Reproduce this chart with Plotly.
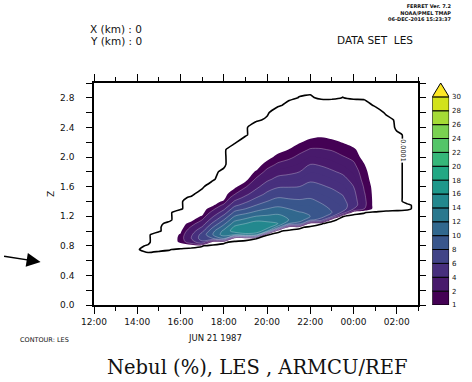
import numpy as np
import plotly.graph_objects as go

# ---------------- data ----------------
# time axis in hours since 00:00 of Jun 21 (24 = 00:00 next day)
times_h = [13.5, 14.0, 14.5, 15.0, 15.5, 16.0, 16.5, 17.0, 17.5, 18.0, 18.5, 19.0, 19.5, 20.0,
           20.5, 21.0, 21.5, 22.0, 22.5, 23.0, 23.5, 24.0, 24.5, 25.0, 25.5, 26.0, 26.5, 27.0]
heights_km = [0.60, 0.65, 0.70, 0.75, 0.80, 0.85, 0.90, 0.95, 1.00, 1.05,
              1.10, 1.15, 1.20, 1.25, 1.30, 1.35, 1.40, 1.45, 1.50,
              1.60, 1.70, 1.80, 1.90, 2.00, 2.10, 2.20, 2.30, 2.40, 2.50, 2.60, 2.70, 2.80, 2.90, 3.00]

# cloud fraction (%) profiles, one list per time (bottom -> top)
nebul_profiles = [
    [0,0,0,0,0,0,0,0,0,0, 0,0,0,0,0,0,0,0,0, 0,0,0,0,0,0,0,0,0,0,0,0,0,0,0],  # 13.5
    [0,0,0,0,0,0,0,0,0,0, 0,0,0,0,0,0,0,0,0, 0,0,0,0,0,0,0,0,0,0,0,0,0,0,0],  # 14.0
    [0,0,0,0.5,0.15,0,0,0,0,0, 0,0,0,0,0,0,0,0,0, 0,0,0,0,0,0,0,0,0,0,0,0,0,0,0],  # 14.5
    [0,0,0,0.2,0.5,0.5,0.5,0.5,0,0, 0,0,0,0,0,0,0,0,0, 0,0,0,0,0,0,0,0,0,0,0,0,0,0,0],  # 15.0
    [0,0,0,0.12,0.5,0.5,0.5,0.5,0.5,0.5, 0.25,0,0,0,0,0,0,0,0, 0,0,0,0,0,0,0,0,0,0,0,0,0,0,0],  # 15.5
    [0,0,0,0,0.5,1.15,1.2,1.1,0.8,0.5, 0.5,0.5,0.5,0.5,0,0,0,0,0, 0,0,0,0,0,0,0,0,0,0,0,0,0,0,0],  # 16.0
    [0,0,0,0,0.25,3,4,3.7,3,2.2, 1.4,0.7,0.5,0.5,0.5,0.5,0.5,0.17,0, 0,0,0,0,0,0,0,0,0,0,0,0,0,0,0],  # 16.5
    [0,0,0,0,0.12,5.5,7,6.8,5.5,4.2, 3,2,1.1,0.6,0.5,0.5,0.5,0.5,0.33, 0,0,0,0,0,0,0,0,0,0,0,0,0,0,0],  # 17.0
    [0,0,0,0,0,0.5,8,10,9.5,8, 6.5,5,3.8,2.6,1.6,0.8,0.5,0.5,0.5, 0.5,0,0,0,0,0,0,0,0,0,0,0,0,0,0],  # 17.5
    [0,0,0,0,0,0.17,10,13,12.5,11, 9.5,8,6.5,5,3.6,2.3,1.2,0.6,0.5, 0.5,0.5,0.2,0,0,0,0,0,0,0,0,0,0,0,0],  # 18.0
    [0,0,0,0,0,0,0.5,12,15,14.5, 13,11.5,10,8.5,7,5.5,4.2,3,1.9, 0.7,0.5,0.5,0.5,0.5,0.5,0,0,0,0,0,0,0,0,0],  # 18.5
    [0,0,0,0,0,0,0.25,13,16,15.5, 14,12.5,11,9.5,8,6.8,5.6,4.5,3.5, 1.8,0.6,0.5,0.5,0.5,0.5,0.5,0,0,0,0,0,0,0,0],  # 19.0
    [0,0,0,0,0,0,0.11,12,16,16, 15,13.5,12,10.5,9.2,8,7,6,5, 3.5,2.2,1.1,0.5,0.5,0.5,0.5,0.5,0.5,0,0,0,0,0,0],  # 19.5
    [0,0,0,0,0,0,0,0.12,12,15, 14.5,13.5,12.3,11,10,9,8,7.2,6.4, 5,3.6,2.4,1.4,0.6,0.5,0.5,0.5,0.5,0.2,0,0,0,0,0],  # 20.0
    [0,0,0,0,0,0,0,0,0.17,11, 14,13.5,12.5,11.5,10.5,9.6,8.8,8,7.2, 5.8,4.5,3.3,2.2,1.3,0.6,0.5,0.5,0.5,0.5,0.5,0,0,0,0],  # 20.5
    [0,0,0,0,0,0,0,0,0,0.5, 10,12,11.6,10.8,10,9.2,8.5,7.8,7.1, 5.9,4.7,3.6,2.6,1.7,1.02,0.5,0.5,0.5,0.5,0.5,0.25,0,0,0],  # 21.0
    [0,0,0,0,0,0,0,0,0,0.17, 9,11,10.7,10.1,9.5,8.9,8.3,7.7,7.1, 6,5,4,3.1,2.3,1.6,0.9,0.5,0.5,0.5,0.5,0.5,0.12,0,0],  # 21.5
    [0,0,0,0,0,0,0,0,0,0, 0.5,8.5,10,9.8,9.4,8.9,8.4,7.9,7.4, 6.5,5.7,4.9,4,3,2.1,1.35,0.6,0.5,0.5,0.5,0.5,0.17,0,0],  # 22.0
    [0,0,0,0,0,0,0,0,0,0, 0.12,7,9,8.9,8.6,8.2,7.8,7.4,7, 6.2,5.5,4.7,3.8,2.9,2.1,1.4,0.8,0.5,0.5,0.5,0.5,0,0,0],  # 22.5
    [0,0,0,0,0,0,0,0,0,0, 0,0.17,6.5,8,7.8,7.5,7.2,6.9,6.5, 5.8,5,4.2,3.4,2.6,1.9,1.25,0.6,0.5,0.5,0.5,0.5,0,0,0],  # 23.0
    [0,0,0,0,0,0,0,0,0,0, 0,0,0.12,5.5,7,6.8,6.5,6.2,5.9, 5.2,4.5,3.7,2.9,2.1,1.5,0.95,0.5,0.5,0.5,0.5,0.5,0.11,0,0],  # 23.5
    [0,0,0,0,0,0,0,0,0,0, 0,0,0,0.25,4,5,4.9,4.7,4.5, 4,3.4,2.8,2.2,1.7,1.15,0.6,0.5,0.5,0.5,0.5,0.5,0,0,0],  # 24.0
    [0,0,0,0,0,0,0,0,0,0, 0,0,0,0.12,2,2.3,2.3,2.2,2.1, 1.8,1.4,1.2,1.02,0.5,0.5,0.5,0.5,0.5,0.5,0.5,0.4,0,0,0],  # 24.5
    [0,0,0,0,0,0,0,0,0,0, 0,0,0,0,0.6,0.5,0.5,0.5,0.5, 0.5,0.5,0.5,0.5,0.5,0.5,0.5,0.5,0.5,0.5,0.5,0,0,0,0],  # 25.0
    [0,0,0,0,0,0,0,0,0,0, 0,0,0,0,0.25,0.5,0.5,0.5,0.5, 0.5,0.5,0.5,0.5,0.5,0.5,0.5,0.5,0.5,0.33,0,0,0,0,0],  # 25.5
    [0,0,0,0,0,0,0,0,0,0, 0,0,0,0,0.2,0.2,0.2,0.2,0.2, 0.2,0.2,0.2,0.2,0.2,0.2,0.2,0.2,0,0,0,0,0,0,0],  # 26.0
    [0,0,0,0,0,0,0,0,0,0, 0,0,0,0,0.15,0.15,0,0,0, 0,0,0,0,0,0,0,0,0,0,0,0,0,0,0],  # 26.5
    [0,0,0,0,0,0,0,0,0,0, 0,0,0,0,0,0,0,0,0, 0,0,0,0,0,0,0,0,0,0,0,0,0,0,0],  # 27.0
]

levels = [1, 2, 4, 6, 8, 10, 12, 14, 16, 18, 20, 22, 24, 26, 28, 30]
band_colors = ["#440154", "#481A6C", "#472F7D", "#414487", "#39568C", "#31688E", "#2A788E", "#23888E",
               "#1F988B", "#22A884", "#35B779", "#54C568", "#7AD151", "#A5DB36", "#D2E21B", "#FDE725"]
x_tick_vals = [12, 14, 16, 18, 20, 22, 24, 26]
x_tick_text = ["12:00", "14:00", "16:00", "18:00", "20:00", "22:00", "00:00", "02:00"]
outline_level = 0.1
outline_label = "0.0001"

# ---------------- figure ----------------
z = np.array(nebul_profiles, dtype=float).T

# stepwise colorscale for unit contour bins between 1 and 30
nbin = levels[-1] - levels[0]
step_colors = []
for k in range(nbin + 1):
    v = levels[0] - 1 + k + 0.5
    if v < levels[0]:
        step_colors.append("#ffffff")
    else:
        idx = max(j for j in range(len(levels)) if levels[j] <= v)
        step_colors.append(band_colors[idx])
colorscale = []
for k, c in enumerate(step_colors):
    lo = max(0.0, (k - 0.5) / nbin)
    hi = min(1.0, (k + 0.5) / nbin)
    colorscale += [[lo, c], [hi, c]]

FONT = "DejaVu Sans"
INK = "#111111"

fig = go.Figure()
fig.add_trace(go.Contour(
    x=times_h, y=heights_km, z=z, colorscale=colorscale, autocontour=False,
    contours=dict(start=levels[0], end=levels[-1], size=1, coloring="fill", showlines=False),
    line=dict(width=0, smoothing=1), showscale=False, hoverinfo="skip"))
fig.add_trace(go.Contour(
    x=times_h, y=heights_km, z=z, autocontour=False,
    contours=dict(start=levels[1], end=levels[-1], size=2, coloring="none"),
    line=dict(color="rgba(255,255,255,0.4)", width=0.7, smoothing=1),
    showscale=False, hoverinfo="skip"))
fig.add_trace(go.Contour(
    x=times_h, y=heights_km, z=z, autocontour=False,
    contours=dict(start=outline_level, end=outline_level, size=1, coloring="none"),
    line=dict(color="black", width=1.6, smoothing=0.5),
    showscale=False, hoverinfo="skip"))

# colour key built from the levels
n = len(levels) - 1
fig.add_trace(go.Bar(
    x=[0] * n, y=[1] * n, base=list(range(n)), width=1,
    marker=dict(color=band_colors[:n], line=dict(color="black", width=1)),
    xaxis="x2", yaxis="y2", hoverinfo="skip", showlegend=False))
fig.add_trace(go.Scatter(
    x=[-0.5, 0.5, 0, -0.5], y=[n, n, n + 1, n], mode="lines", fill="toself",
    fillcolor=band_colors[n], line=dict(color="black", width=1),
    xaxis="x2", yaxis="y2", hoverinfo="skip", showlegend=False))

L, R, T, B = 94, 10, 83, 77
W, H = 472, 382
PW, PH = W - L - R, H - T - B
def px(x):
    return (x - L) / PW
def py(y):
    return (H - B - y) / PH

axis_common = dict(showline=True, linecolor="black", linewidth=1.5, mirror="ticks",
                   ticks="outside", tickcolor="black", tickwidth=1.2,
                   showgrid=False, zeroline=False,
                   tickfont=dict(family=FONT, size=9, color=INK))
fig.update_layout(
    width=W, height=H, margin=dict(l=L, r=R, t=T, b=B),
    paper_bgcolor="white", plot_bgcolor="white", showlegend=False, barmode="overlay",
    xaxis=dict(domain=[0, px(422)], range=[12, 27], tickmode="array",
               tickvals=x_tick_vals, ticktext=x_tick_text, ticklen=7,
               minor=dict(dtick=1, tick0=12, ticklen=4, ticks="outside", tickcolor="black", tickwidth=1.2),
               **axis_common),
    yaxis=dict(range=[0, 3.0], tick0=0, dtick=0.4, tickformat=".1f", ticklen=6,
               ticklabelstandoff=10,
               minor=dict(dtick=0.2, tick0=0, ticklen=6, ticks="outside", tickcolor="black", tickwidth=1.2),
               title=dict(text="Z", font=dict(family=FONT, size=9, color=INK), standoff=4),
               **axis_common),
    xaxis2=dict(domain=[px(436), px(453)], range=[-0.5, 0.5], visible=False, anchor="y2"),
    yaxis2=dict(domain=[0, 1], range=[0, n + 1], anchor="x2", side="right",
                tickmode="array", tickvals=list(range(n + 1)), ticktext=[str(v) for v in levels],
                ticks="", showline=False, showgrid=False, zeroline=False, ticklabelstandoff=2,
                tickfont=dict(family=FONT, size=7, color=INK)),
)

def note(text, x, y, size, xanchor="center", yanchor="middle", family=FONT, **kw):
    fig.add_annotation(text=text, x=x, y=y, xref="paper", yref="paper", showarrow=False,
                       xanchor=xanchor, yanchor=yanchor,
                       font=dict(family=family, size=size, color=INK), **kw)

note("X (km) : 0", px(88), py(29), 10.5, xanchor="left")
note("Y (km) : 0", px(88), py(41), 10.5, xanchor="left")
note("DATA SET  LES", px(338), py(40), 10.5, xanchor="left")
note("<b>FERRET Ver. 7.2</b><br><b>NOAA/PMEL TMAP</b><br><b>06-DEC-2016 15:23:37</b>",
     px(458), py(1), 5, xanchor="right", yanchor="top", align="right")
note("CONTOUR: LES", px(44), py(340), 6.5)
note("JUN 21 1987", px(216), py(338), 8.5)
note("Nebul (%), LES , ARMCU/REF", px(259), py(367), 19.5, family="DejaVu Serif")

fig.add_annotation(text="", x=px(40), y=py(262), xref="paper", yref="paper",
                   showarrow=True, ax=-38, ay=-6, arrowhead=2, arrowsize=2,
                   arrowwidth=1.4, arrowcolor="black")
fig.add_annotation(text=outline_label, x=26.25, y=2.09, xref="x", yref="y", showarrow=False,
                   textangle=90, bgcolor="white", borderpad=0,
                   font=dict(family=FONT, size=6.5, color=INK))

fig.write_html("out.html")
